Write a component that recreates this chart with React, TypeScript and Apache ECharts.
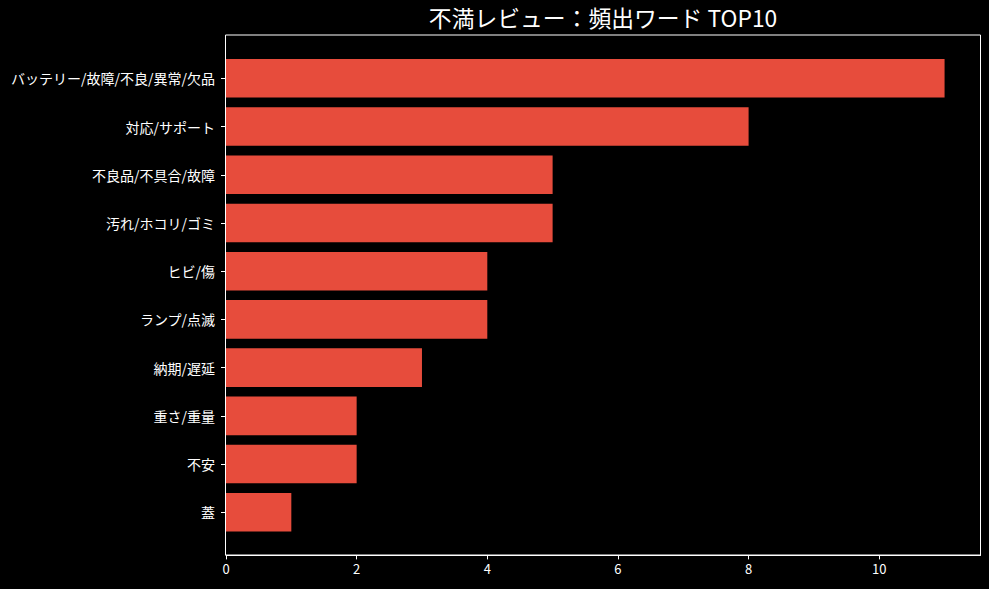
import React, { useEffect, useRef } from "react";
import * as echarts from "echarts";

const categories = [
  "バッテリー/故障/不良/異常/欠品",
  "対応/サポート",
  "不良品/不具合/故障",
  "汚れ/ホコリ/ゴミ",
  "ヒビ/傷",
  "ランプ/点滅",
  "納期/遅延",
  "重さ/重量",
  "不安",
  "蓋",
];
const counts = [11, 8, 5, 5, 4, 4, 3, 2, 2, 1];
const xTicks = [0, 2, 4, 6, 8, 10];
const titleText = "不満レビュー：頻出ワード TOP10";

const FONT = '"Noto Sans CJK JP", "Noto Sans", sans-serif';

export default function App() {
  const ref = useRef<HTMLDivElement>(null);
  useEffect(() => {
    if (!ref.current) return;
    const chart = echarts.init(ref.current, null, { renderer: "svg" });
    chart.setOption({
      animation: false,
      backgroundColor: "#000000",
      textStyle: { fontFamily: FONT },
      title: {
        text: titleText,
        left: 603,
        top: 6,
        padding: 0,
        textAlign: "center",
        textStyle: { color: "#ffffff", fontSize: 22.8, fontWeight: "normal", fontFamily: FONT },
      },
      grid: { left: 226, right: 8.5, top: 54.2, bottom: 52.6, containLabel: false },
      xAxis: {
        type: "value",
        min: 0,
        max: 11.55,
        interval: 2,
        offset: 19,
        axisLine: { show: true, lineStyle: { color: "#ffffff", width: 1 } },
        axisTick: { show: true, length: 4, lineStyle: { color: "#ffffff" }, customValues: xTicks },
        axisLabel: { color: "#ffffff", fontSize: 13, margin: 7, customValues: xTicks, fontFamily: FONT },
        splitLine: { show: false },
      },
      yAxis: {
        type: "category",
        data: categories,
        inverse: true,
        axisLine: { show: false },
        axisTick: { show: true, alignWithLabel: true, length: 5, lineStyle: { color: "#ffffff" } },
        axisLabel: { color: "#ffffff", fontSize: 14, margin: 11, fontFamily: FONT },
        splitLine: { show: false },
      },
      series: [
        {
          type: "bar",
          data: counts,
          barWidth: "80%",
          itemStyle: { color: "#e74c3c" },
        },
      ],
      graphic: [
        {
          type: "rect",
          silent: true,
          z: 100,
          shape: { x: 225.5, y: 35, width: 755, height: 520 },
          style: { fill: "none", stroke: "#ffffff", lineWidth: 1 },
        },
      ],
    });
    return () => chart.dispose();
  }, []);
  return (
    <div
      ref={ref}
      style={{ position: "absolute", left: 0, top: 0, width: 989, height: 589 }}
    />
  );
}
